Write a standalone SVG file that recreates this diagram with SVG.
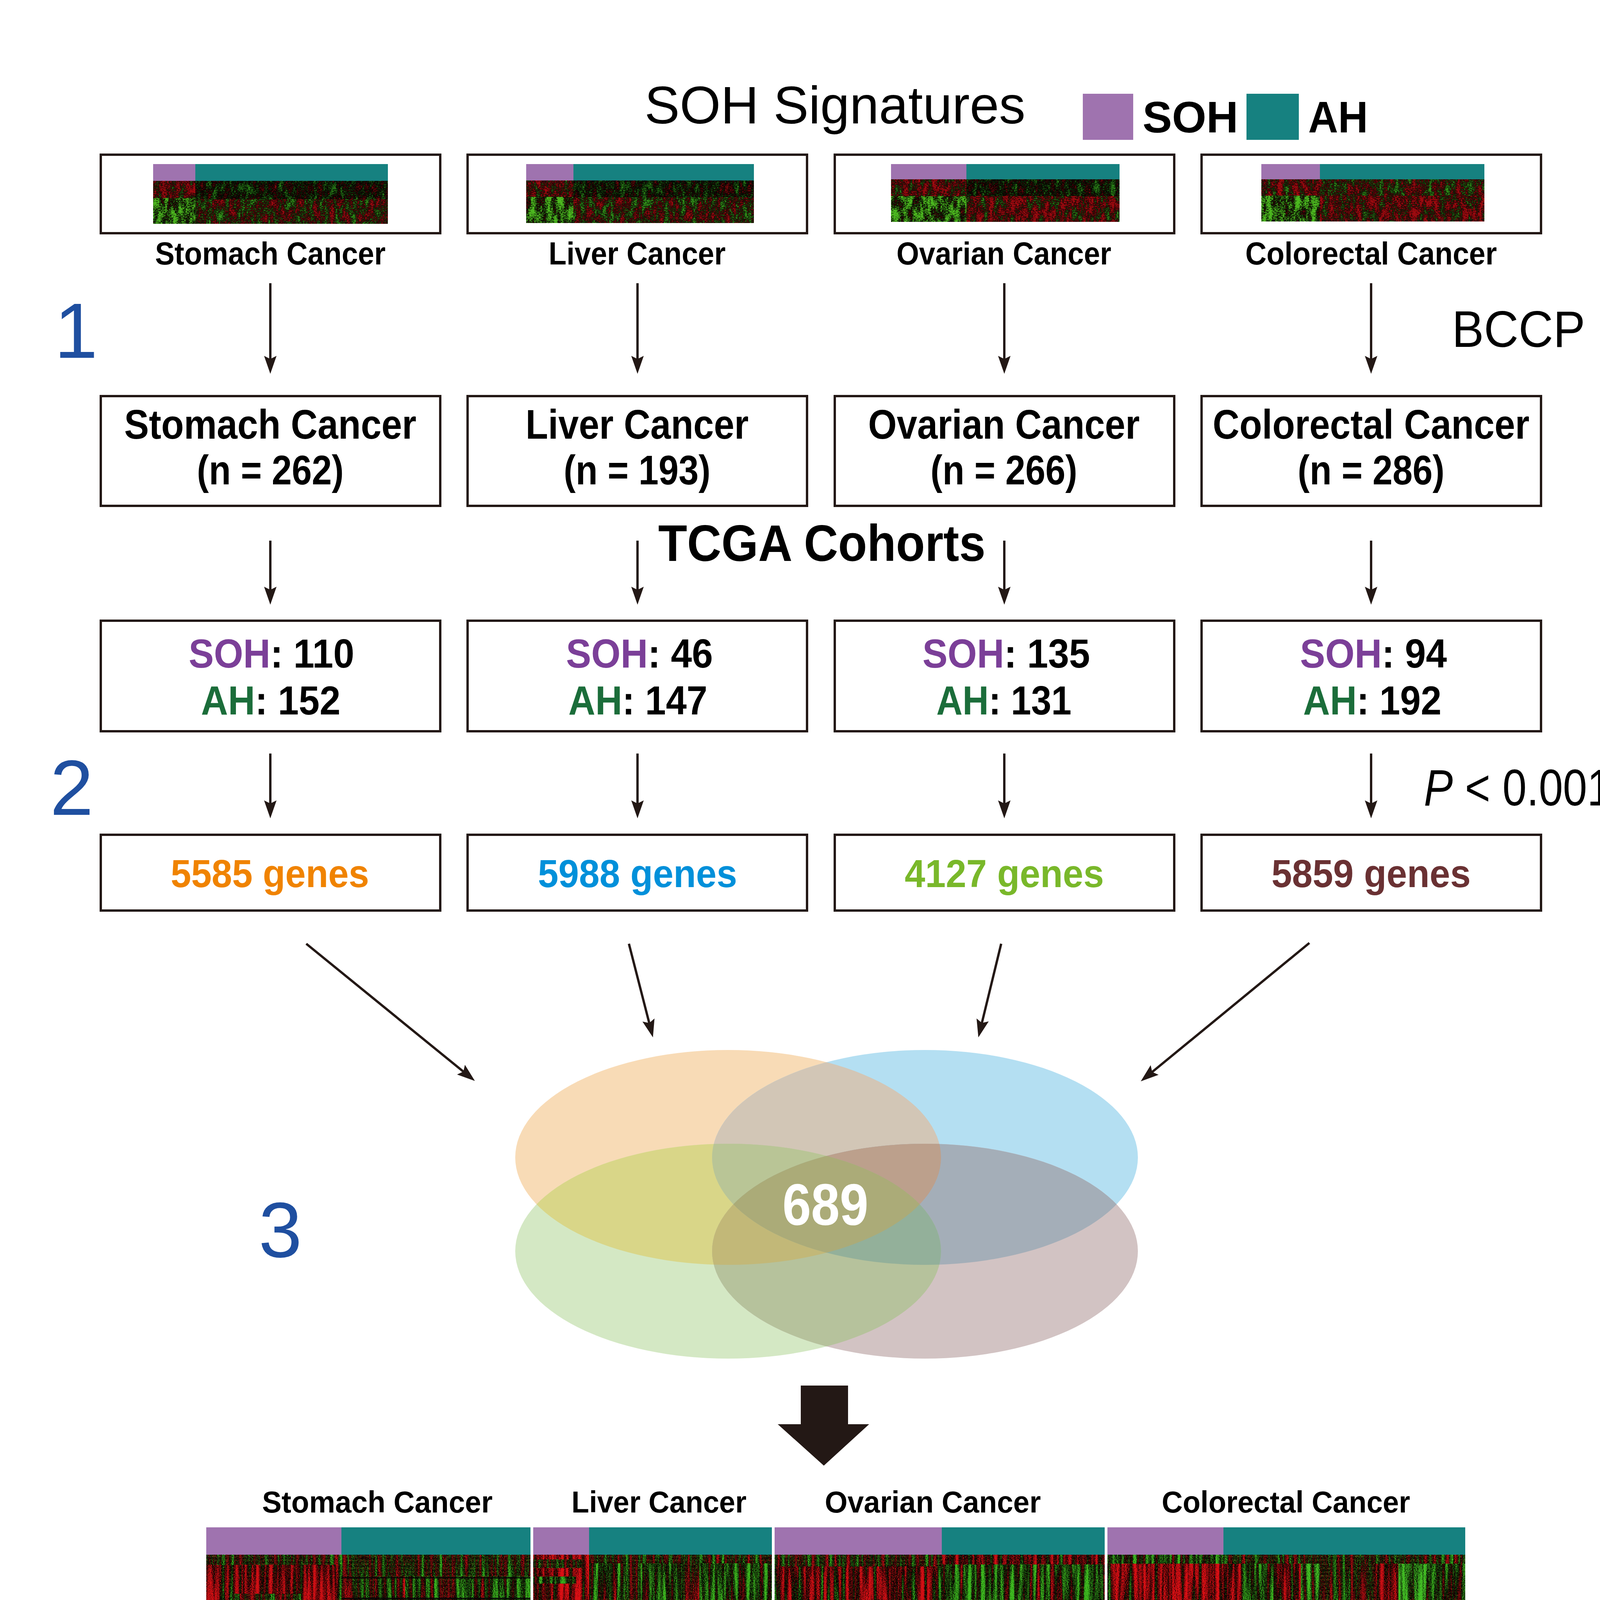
<svg xmlns="http://www.w3.org/2000/svg" width="4208" height="4801" viewBox="0 0 4208 4801">
<style>
.box{fill:#fff;stroke:#231815;stroke-width:6}
.b{font-family:"Liberation Sans",Arial,sans-serif;font-weight:bold;fill:#000}
.r{font-family:"Liberation Sans",Arial,sans-serif;font-weight:normal;fill:#000}
.num{font-family:"Liberation Sans",Arial,sans-serif;font-size:200px;fill:#1f4fa0}
.arr{stroke:#231815;stroke-width:6;fill:none;marker-end:url(#ah)}
.arr2{stroke:#231815;stroke-width:9;fill:none;marker-end:url(#ah2)}
.soh{fill:#9f73af}.ah{fill:#168180}
.ps{fill:#7b3f98}.pa{fill:#1b6d3a}
.dk{fill:#050505}
</style>
<defs>
<marker id="ah" viewBox="0 0 46 32" refX="36" refY="16" markerWidth="46" markerHeight="32" markerUnits="userSpaceOnUse" orient="auto">
<path d="M0,0 L46,16 L0,32 L8,16 z" fill="#231815"/>
</marker>
<marker id="ah2" viewBox="0 0 34 30" refX="26" refY="15" markerWidth="34" markerHeight="30" markerUnits="userSpaceOnUse" orient="auto">
<path d="M0,0 L34,15 L0,30 L6,15 z" fill="#231815"/>
</marker>
<clipPath id="cO"><ellipse cx="1864" cy="2963" rx="545" ry="275"/></clipPath>
<clipPath id="cB"><ellipse cx="2368" cy="2963" rx="545" ry="275"/></clipPath>
<clipPath id="cG"><ellipse cx="1864" cy="3203" rx="545" ry="275"/></clipPath>
<clipPath id="cR"><ellipse cx="2368" cy="3203" rx="545" ry="275"/></clipPath>
<!-- bottom heatmap filters -->
<filter id="hRR" x="0" y="0" width="1" height="1" color-interpolation-filters="sRGB">
<feTurbulence type="fractalNoise" baseFrequency="0.09 0.004" numOctaves="2" seed="2" result="a"/>
<feTurbulence type="fractalNoise" baseFrequency="0.35 0.9" numOctaves="1" seed="5" result="b"/>
<feColorMatrix in="a" type="matrix" values="1 0 0 0 0 0 1 0 0 0 0 0 1 0 0 0 0 0 0 1" result="a1"/>
<feColorMatrix in="b" type="matrix" values="1 0 0 0 0 0 1 0 0 0 0 0 1 0 0 0 0 0 0 1" result="b1"/>
<feComposite in="a1" in2="b1" operator="arithmetic" k2="0.55" k3="0.45" result="c"/>
<feColorMatrix in="c" type="matrix" values="7 0 0 0 -2.9  -7 0 0 0 2.75  0 0 0 0 0  0 0 0 0 1" result="d"/>
<feColorMatrix in="d" type="matrix" values="0.86 0.22 0 0 0  0.06 0.74 0 0 0  0.08 0.12 0 0 0  0 0 0 0 1"/>
</filter>
<filter id="hR" x="0" y="0" width="1" height="1" color-interpolation-filters="sRGB">
<feTurbulence type="fractalNoise" baseFrequency="0.09 0.004" numOctaves="2" seed="11" result="a"/>
<feTurbulence type="fractalNoise" baseFrequency="0.35 0.9" numOctaves="1" seed="13" result="b"/>
<feColorMatrix in="a" type="matrix" values="1 0 0 0 0 0 1 0 0 0 0 0 1 0 0 0 0 0 0 1" result="a1"/>
<feColorMatrix in="b" type="matrix" values="1 0 0 0 0 0 1 0 0 0 0 0 1 0 0 0 0 0 0 1" result="b1"/>
<feComposite in="a1" in2="b1" operator="arithmetic" k2="0.55" k3="0.45" result="c"/>
<feColorMatrix in="c" type="matrix" values="7 0 0 0 -3.2  -7 0 0 0 3.05  0 0 0 0 0  0 0 0 0 1" result="d"/>
<feColorMatrix in="d" type="matrix" values="0.82 0.22 0 0 0  0.06 0.74 0 0 0  0.08 0.12 0 0 0  0 0 0 0 1"/>
</filter>
<filter id="hN" x="0" y="0" width="1" height="1" color-interpolation-filters="sRGB">
<feTurbulence type="fractalNoise" baseFrequency="0.09 0.004" numOctaves="2" seed="21" result="a"/>
<feTurbulence type="fractalNoise" baseFrequency="0.35 0.9" numOctaves="1" seed="23" result="b"/>
<feColorMatrix in="a" type="matrix" values="1 0 0 0 0 0 1 0 0 0 0 0 1 0 0 0 0 0 0 1" result="a1"/>
<feColorMatrix in="b" type="matrix" values="1 0 0 0 0 0 1 0 0 0 0 0 1 0 0 0 0 0 0 1" result="b1"/>
<feComposite in="a1" in2="b1" operator="arithmetic" k2="0.5" k3="0.5" result="c"/>
<feColorMatrix in="c" type="matrix" values="7 0 0 0 -3.55  -7 0 0 0 3.45  0 0 0 0 0  0 0 0 0 1" result="d"/>
<feColorMatrix in="d" type="matrix" values="0.8 0.22 0 0 0  0.06 0.74 0 0 0  0.08 0.12 0 0 0  0 0 0 0 1"/>
</filter>
<filter id="hG" x="0" y="0" width="1" height="1" color-interpolation-filters="sRGB">
<feTurbulence type="fractalNoise" baseFrequency="0.09 0.004" numOctaves="2" seed="31" result="a"/>
<feTurbulence type="fractalNoise" baseFrequency="0.35 0.9" numOctaves="1" seed="33" result="b"/>
<feColorMatrix in="a" type="matrix" values="1 0 0 0 0 0 1 0 0 0 0 0 1 0 0 0 0 0 0 1" result="a1"/>
<feColorMatrix in="b" type="matrix" values="1 0 0 0 0 0 1 0 0 0 0 0 1 0 0 0 0 0 0 1" result="b1"/>
<feComposite in="a1" in2="b1" operator="arithmetic" k2="0.55" k3="0.45" result="c"/>
<feColorMatrix in="c" type="matrix" values="7 0 0 0 -3.9  -7 0 0 0 3.75  0 0 0 0 0  0 0 0 0 1" result="d"/>
<feColorMatrix in="d" type="matrix" values="0.8 0.24 0 0 0  0.06 0.72 0 0 0  0.08 0.12 0 0 0  0 0 0 0 1"/>
</filter>
<filter id="hGG" x="0" y="0" width="1" height="1" color-interpolation-filters="sRGB">
<feTurbulence type="fractalNoise" baseFrequency="0.09 0.004" numOctaves="2" seed="41" result="a"/>
<feTurbulence type="fractalNoise" baseFrequency="0.35 0.9" numOctaves="1" seed="43" result="b"/>
<feColorMatrix in="a" type="matrix" values="1 0 0 0 0 0 1 0 0 0 0 0 1 0 0 0 0 0 0 1" result="a1"/>
<feColorMatrix in="b" type="matrix" values="1 0 0 0 0 0 1 0 0 0 0 0 1 0 0 0 0 0 0 1" result="b1"/>
<feComposite in="a1" in2="b1" operator="arithmetic" k2="0.55" k3="0.45" result="c"/>
<feColorMatrix in="c" type="matrix" values="7 0 0 0 -4.2  -7 0 0 0 4.1  0 0 0 0 0  0 0 0 0 1" result="d"/>
<feColorMatrix in="d" type="matrix" values="0.8 0.26 0 0 0  0.06 0.74 0 0 0  0.08 0.14 0 0 0  0 0 0 0 1"/>
</filter>
<!-- thumbnail filters -->
<filter id="tR" x="0" y="0" width="1" height="1" color-interpolation-filters="sRGB">
<feTurbulence type="fractalNoise" baseFrequency="0.07 0.03" numOctaves="2" seed="51" result="a"/>
<feTurbulence type="fractalNoise" baseFrequency="0.25 0.4" numOctaves="1" seed="53" result="b"/>
<feColorMatrix in="a" type="matrix" values="1 0 0 0 0 0 1 0 0 0 0 0 1 0 0 0 0 0 0 1" result="a1"/>
<feColorMatrix in="b" type="matrix" values="1 0 0 0 0 0 1 0 0 0 0 0 1 0 0 0 0 0 0 1" result="b1"/>
<feComposite in="a1" in2="b1" operator="arithmetic" k2="0.5" k3="0.5" result="c"/>
<feColorMatrix in="c" type="matrix" values="5 0 0 0 -2.1  -5 0 0 0 2.35  0 0 0 0 0  0 0 0 0 1" result="d"/>
<feColorMatrix in="d" type="matrix" values="0.62 0.2 0 0 0  0.04 0.55 0 0 0  0.06 0.1 0 0 0  0 0 0 0 1"/>
</filter>
<filter id="tG" x="0" y="0" width="1" height="1" color-interpolation-filters="sRGB">
<feTurbulence type="fractalNoise" baseFrequency="0.07 0.03" numOctaves="2" seed="61" result="a"/>
<feTurbulence type="fractalNoise" baseFrequency="0.25 0.4" numOctaves="1" seed="63" result="b"/>
<feColorMatrix in="a" type="matrix" values="1 0 0 0 0 0 1 0 0 0 0 0 1 0 0 0 0 0 0 1" result="a1"/>
<feColorMatrix in="b" type="matrix" values="1 0 0 0 0 0 1 0 0 0 0 0 1 0 0 0 0 0 0 1" result="b1"/>
<feComposite in="a1" in2="b1" operator="arithmetic" k2="0.5" k3="0.5" result="c"/>
<feColorMatrix in="c" type="matrix" values="4 0 0 0 -2.3  -5 0 0 0 2.95  0 0 0 0 0  0 0 0 0 1" result="d"/>
<feColorMatrix in="d" type="matrix" values="0.62 0.3 0 0 0  0.04 0.72 0 0 0  0.06 0.12 0 0 0  0 0 0 0 1"/>
</filter>
<filter id="tD" x="0" y="0" width="1" height="1" color-interpolation-filters="sRGB">
<feTurbulence type="fractalNoise" baseFrequency="0.07 0.03" numOctaves="2" seed="71" result="a"/>
<feTurbulence type="fractalNoise" baseFrequency="0.25 0.4" numOctaves="1" seed="73" result="b"/>
<feColorMatrix in="a" type="matrix" values="1 0 0 0 0 0 1 0 0 0 0 0 1 0 0 0 0 0 0 1" result="a1"/>
<feColorMatrix in="b" type="matrix" values="1 0 0 0 0 0 1 0 0 0 0 0 1 0 0 0 0 0 0 1" result="b1"/>
<feComposite in="a1" in2="b1" operator="arithmetic" k2="0.5" k3="0.5" result="c"/>
<feColorMatrix in="c" type="matrix" values="4 0 0 0 -2.05  -4 0 0 0 2.08  0 0 0 0 0  0 0 0 0 1" result="d"/>
<feColorMatrix in="d" type="matrix" values="0.55 0.18 0 0 0  0.04 0.55 0 0 0  0.05 0.1 0 0 0  0 0 0 0 1"/>
</filter>
<filter id="tM" x="0" y="0" width="1" height="1" color-interpolation-filters="sRGB">
<feTurbulence type="fractalNoise" baseFrequency="0.07 0.03" numOctaves="2" seed="81" result="a"/>
<feTurbulence type="fractalNoise" baseFrequency="0.25 0.4" numOctaves="1" seed="83" result="b"/>
<feColorMatrix in="a" type="matrix" values="1 0 0 0 0 0 1 0 0 0 0 0 1 0 0 0 0 0 0 1" result="a1"/>
<feColorMatrix in="b" type="matrix" values="1 0 0 0 0 0 1 0 0 0 0 0 1 0 0 0 0 0 0 1" result="b1"/>
<feComposite in="a1" in2="b1" operator="arithmetic" k2="0.5" k3="0.5" result="c"/>
<feColorMatrix in="c" type="matrix" values="5 0 0 0 -2.35  -5 0 0 0 2.6  0 0 0 0 0  0 0 0 0 1" result="d"/>
<feColorMatrix in="d" type="matrix" values="0.6 0.2 0 0 0  0.04 0.58 0 0 0  0.06 0.1 0 0 0  0 0 0 0 1"/>
</filter>
</defs>
<rect x="0" y="0" width="4208" height="4801" fill="#fff"/>

<g id="title">
<text class="r" x="1650" y="316" font-size="135" textLength="975" lengthAdjust="spacingAndGlyphs">SOH Signatures</text>
</g>
<g id="legend">
<rect class="soh" x="2772" y="240" width="129" height="118"/>
<text class="b" x="2925" y="339" font-size="113">SOH</text>
<rect class="ah" x="3191" y="240" width="134" height="118"/>
<text class="b" x="3349" y="339" font-size="113" textLength="153" lengthAdjust="spacingAndGlyphs">AH</text>
</g>

<g id="step-numbers">
<text class="num" x="139" y="916">1</text>
<text class="num" x="128" y="2086">2</text>
<text class="num" x="662" y="3218">3</text>
</g>
<g id="step-labels">
<text class="r" x="3717" y="888" font-size="131" textLength="341" lengthAdjust="spacingAndGlyphs">BCCP</text>
<text class="r" x="3645" y="2062" font-size="132" textLength="480" lengthAdjust="spacingAndGlyphs"><tspan font-style="italic">P</tspan> &lt; 0.001</text>
<text class="b" x="2104" y="1436" font-size="131" text-anchor="middle" textLength="838" lengthAdjust="spacingAndGlyphs">TCGA Cohorts</text>
</g>

<!-- Thumbnail signature boxes -->
<g id="sig-stomach">
<rect class="box" x="258" y="396" width="869" height="201"/>
<rect class="soh" x="392" y="420" width="108" height="44"/>
<rect class="ah" x="500" y="420" width="493" height="44"/>
<rect x="392" y="463" width="108" height="45" filter="url(#tR)"/>
<rect x="392" y="507" width="108" height="66" filter="url(#tG)"/>
<rect x="500" y="463" width="493" height="48" filter="url(#tD)"/>
<rect x="500" y="510" width="493" height="63" filter="url(#tM)"/>
<text class="b" x="692" y="677" font-size="82" text-anchor="middle" textLength="590" lengthAdjust="spacingAndGlyphs">Stomach Cancer</text>
</g>
<g id="sig-liver">
<rect class="box" x="1197" y="396" width="869" height="201"/>
<rect class="soh" x="1347" y="420" width="121" height="43"/>
<rect class="ah" x="1468" y="420" width="462" height="43"/>
<rect x="1347" y="462" width="121" height="43" filter="url(#tR)"/>
<rect x="1347" y="504" width="121" height="67" filter="url(#tG)"/>
<rect x="1468" y="462" width="462" height="44" filter="url(#tD)"/>
<rect x="1468" y="505" width="462" height="66" filter="url(#tM)"/>
<text class="b" x="1631" y="677" font-size="82" text-anchor="middle" textLength="453" lengthAdjust="spacingAndGlyphs">Liver Cancer</text>
</g>
<g id="sig-ovarian">
<rect class="box" x="2137" y="396" width="869" height="201"/>
<rect class="soh" x="2281" y="420" width="193" height="40"/>
<rect class="ah" x="2474" y="420" width="392" height="40"/>
<rect x="2281" y="459" width="193" height="44" filter="url(#tR)"/>
<rect x="2281" y="502" width="193" height="66" filter="url(#tG)"/>
<rect x="2474" y="459" width="392" height="44" filter="url(#tD)"/>
<rect x="2474" y="502" width="392" height="66" filter="url(#tR)"/>
<text class="b" x="2570" y="677" font-size="82" text-anchor="middle" textLength="550" lengthAdjust="spacingAndGlyphs">Ovarian Cancer</text>
</g>
<g id="sig-colorectal">
<rect class="box" x="3076" y="396" width="869" height="201"/>
<rect class="soh" x="3229" y="420" width="150" height="40"/>
<rect class="ah" x="3379" y="420" width="421" height="40"/>
<rect x="3229" y="459" width="150" height="43" filter="url(#tR)"/>
<rect x="3229" y="501" width="150" height="66" filter="url(#tG)"/>
<rect x="3379" y="459" width="421" height="43" filter="url(#tM)"/>
<rect x="3379" y="501" width="421" height="66" filter="url(#tR)"/>
<text class="b" x="3510" y="677" font-size="82" text-anchor="middle" textLength="644" lengthAdjust="spacingAndGlyphs">Colorectal Cancer</text>
</g>

<!-- TCGA cohort boxes -->
<g id="cohort-stomach">
<rect class="box" x="258" y="1014" width="869" height="281"/>
<text class="b" x="692" y="1123" font-size="106" text-anchor="middle" textLength="748" lengthAdjust="spacingAndGlyphs">Stomach Cancer</text>
<text class="b" x="692" y="1240" font-size="106" text-anchor="middle" textLength="376" lengthAdjust="spacingAndGlyphs">(n = 262)</text>
</g>
<g id="cohort-liver">
<rect class="box" x="1197" y="1014" width="869" height="281"/>
<text class="b" x="1631" y="1123" font-size="106" text-anchor="middle" textLength="571" lengthAdjust="spacingAndGlyphs">Liver Cancer</text>
<text class="b" x="1631" y="1240" font-size="106" text-anchor="middle" textLength="376" lengthAdjust="spacingAndGlyphs">(n = 193)</text>
</g>
<g id="cohort-ovarian">
<rect class="box" x="2137" y="1014" width="869" height="281"/>
<text class="b" x="2570" y="1123" font-size="106" text-anchor="middle" textLength="695" lengthAdjust="spacingAndGlyphs">Ovarian Cancer</text>
<text class="b" x="2570" y="1240" font-size="106" text-anchor="middle" textLength="376" lengthAdjust="spacingAndGlyphs">(n = 266)</text>
</g>
<g id="cohort-colorectal">
<rect class="box" x="3076" y="1014" width="869" height="281"/>
<text class="b" x="3510" y="1123" font-size="106" text-anchor="middle" textLength="811" lengthAdjust="spacingAndGlyphs">Colorectal Cancer</text>
<text class="b" x="3510" y="1240" font-size="106" text-anchor="middle" textLength="376" lengthAdjust="spacingAndGlyphs">(n = 286)</text>
</g>

<!-- SOH / AH split boxes -->
<g id="split-stomach">
<rect class="box" x="258" y="1589" width="869" height="283"/>
<text class="b" x="695" y="1709" font-size="104" text-anchor="middle" textLength="424" lengthAdjust="spacingAndGlyphs"><tspan class="ps">SOH</tspan>: 110</text>
<text class="b" x="693" y="1829" font-size="104" text-anchor="middle" textLength="357" lengthAdjust="spacingAndGlyphs"><tspan class="pa">AH</tspan>: 152</text>
</g>
<g id="split-liver">
<rect class="box" x="1197" y="1589" width="869" height="283"/>
<text class="b" x="1637" y="1709" font-size="104" text-anchor="middle" textLength="376" lengthAdjust="spacingAndGlyphs"><tspan class="ps">SOH</tspan>: 46</text>
<text class="b" x="1633" y="1829" font-size="104" text-anchor="middle" textLength="356" lengthAdjust="spacingAndGlyphs"><tspan class="pa">AH</tspan>: 147</text>
</g>
<g id="split-ovarian">
<rect class="box" x="2137" y="1589" width="869" height="283"/>
<text class="b" x="2576" y="1709" font-size="104" text-anchor="middle" textLength="429" lengthAdjust="spacingAndGlyphs"><tspan class="ps">SOH</tspan>: 135</text>
<text class="b" x="2570" y="1829" font-size="104" text-anchor="middle" textLength="346" lengthAdjust="spacingAndGlyphs"><tspan class="pa">AH</tspan>: 131</text>
</g>
<g id="split-colorectal">
<rect class="box" x="3076" y="1589" width="869" height="283"/>
<text class="b" x="3516" y="1709" font-size="104" text-anchor="middle" textLength="376" lengthAdjust="spacingAndGlyphs"><tspan class="ps">SOH</tspan>: 94</text>
<text class="b" x="3513" y="1829" font-size="104" text-anchor="middle" textLength="354" lengthAdjust="spacingAndGlyphs"><tspan class="pa">AH</tspan>: 192</text>
</g>

<!-- gene count boxes -->
<g id="genes-stomach">
<rect class="box" x="258" y="2137" width="869" height="194"/>
<text class="b" x="691" y="2271" font-size="100" text-anchor="middle" textLength="508" lengthAdjust="spacingAndGlyphs" style="fill:#f08300">5585 genes</text>
</g>
<g id="genes-liver">
<rect class="box" x="1197" y="2137" width="869" height="194"/>
<text class="b" x="1632" y="2271" font-size="100" text-anchor="middle" textLength="510" lengthAdjust="spacingAndGlyphs" style="fill:#0090da">5988 genes</text>
</g>
<g id="genes-ovarian">
<rect class="box" x="2137" y="2137" width="869" height="194"/>
<text class="b" x="2571" y="2271" font-size="100" text-anchor="middle" textLength="510" lengthAdjust="spacingAndGlyphs" style="fill:#79b82a">4127 genes</text>
</g>
<g id="genes-colorectal">
<rect class="box" x="3076" y="2137" width="869" height="194"/>
<text class="b" x="3510" y="2271" font-size="100" text-anchor="middle" textLength="510" lengthAdjust="spacingAndGlyphs" style="fill:#6a3133">5859 genes</text>
</g>

<!-- Venn diagram -->
<g id="venn">
<ellipse cx="1864" cy="2963" rx="545" ry="275" fill="#f8dbb6"/>
<ellipse cx="2368" cy="2963" rx="545" ry="275" fill="#b4dff2"/>
<ellipse cx="1864" cy="3203" rx="545" ry="275" fill="#d4e8c4"/>
<ellipse cx="2368" cy="3203" rx="545" ry="275" fill="#d2c3c3"/>
<g clip-path="url(#cB)"><ellipse cx="1864" cy="2963" rx="545" ry="275" fill="#d2c6b6"/></g>
<g clip-path="url(#cG)"><ellipse cx="1864" cy="2963" rx="545" ry="275" fill="#d9d688"/></g>
<g clip-path="url(#cR)"><ellipse cx="1864" cy="2963" rx="545" ry="275" fill="#c0ab9a"/></g>
<g clip-path="url(#cG)"><ellipse cx="2368" cy="2963" rx="545" ry="275" fill="#b2c6b2"/></g>
<g clip-path="url(#cR)"><ellipse cx="2368" cy="2963" rx="545" ry="275" fill="#a4aeb8"/></g>
<g clip-path="url(#cR)"><ellipse cx="1864" cy="3203" rx="545" ry="275" fill="#b6c29c"/></g>
<g clip-path="url(#cB)"><g clip-path="url(#cG)"><ellipse cx="1864" cy="2963" rx="545" ry="275" fill="#b9c596"/></g></g>
<g clip-path="url(#cB)"><g clip-path="url(#cR)"><ellipse cx="1864" cy="2963" rx="545" ry="275" fill="#bca08c"/></g></g>
<g clip-path="url(#cG)"><g clip-path="url(#cR)"><ellipse cx="1864" cy="2963" rx="545" ry="275" fill="#c2b878"/></g></g>
<g clip-path="url(#cG)"><g clip-path="url(#cR)"><ellipse cx="2368" cy="2963" rx="545" ry="275" fill="#93b09a"/></g></g>
<g clip-path="url(#cB)"><g clip-path="url(#cG)"><g clip-path="url(#cR)"><ellipse cx="1864" cy="2963" rx="545" ry="275" fill="#abab78"/></g></g></g>
<text class="b" x="2113" y="3136" font-size="150" text-anchor="middle" textLength="220" lengthAdjust="spacingAndGlyphs" style="fill:#fff">689</text>
</g>

<!-- big down arrow -->
<g id="big-arrow">
<path d="M2050,3547 H2171 V3646 H2225 L2109,3752 L1991,3646 H2050 Z" fill="#231815"/>
</g>

<!-- Core heatmap -->
<g id="core-heatmap">
<text class="b" x="966" y="3872" font-size="78" text-anchor="middle" textLength="590" lengthAdjust="spacingAndGlyphs">Stomach Cancer</text>
<text class="b" x="1687" y="3872" font-size="78" text-anchor="middle" textLength="448" lengthAdjust="spacingAndGlyphs">Liver Cancer</text>
<text class="b" x="2388" y="3872" font-size="78" text-anchor="middle" textLength="553" lengthAdjust="spacingAndGlyphs">Ovarian Cancer</text>
<text class="b" x="3292" y="3872" font-size="78" text-anchor="middle" textLength="636" lengthAdjust="spacingAndGlyphs">Colorectal Cancer</text>
<!-- color bars -->
<rect class="soh" x="528" y="3910" width="346" height="71"/>
<rect class="ah" x="874" y="3910" width="484" height="71"/>
<rect class="soh" x="1365" y="3910" width="143" height="71"/>
<rect class="ah" x="1508" y="3910" width="468" height="71"/>
<rect class="soh" x="1983" y="3910" width="428" height="71"/>
<rect class="ah" x="2411" y="3910" width="417" height="71"/>
<rect class="soh" x="2835" y="3910" width="297" height="71"/>
<rect class="ah" x="3132" y="3910" width="619" height="71"/>
<!-- stomach -->
<rect x="528" y="3980" width="346" height="533" filter="url(#hR)"/>
<rect x="528" y="3980" width="346" height="26" filter="url(#hN)"/>
<rect x="600" y="4080" width="170" height="120" filter="url(#hN)"/>
<rect x="620" y="4240" width="150" height="120" filter="url(#hRR)"/>
<rect x="874" y="3980" width="484" height="533" filter="url(#hG)"/>
<rect x="874" y="3980" width="484" height="56" filter="url(#hN)"/>
<rect x="874" y="4036" width="86" height="477" filter="url(#hN)"/>
<rect x="1015" y="4036" width="22" height="477" filter="url(#hR)"/>
<rect x="1130" y="4036" width="30" height="400" filter="url(#hN)"/>
<rect x="1245" y="4100" width="60" height="200" filter="url(#hGG)"/>
<rect x="874" y="4460" width="484" height="53" filter="url(#hN)"/>
<g opacity="0.8">
<rect class="dk" x="874" y="4037" width="484" height="4"/>
<rect class="dk" x="874" y="4090" width="484" height="5"/>
<rect class="dk" x="874" y="4205" width="484" height="4"/>
<rect class="dk" x="874" y="4327" width="484" height="6"/>
<rect class="dk" x="874" y="4355" width="484" height="5"/>
<rect class="dk" x="874" y="4372" width="484" height="8"/>
<rect class="dk" x="726" y="4436" width="632" height="18"/>
<rect class="dk" x="528" y="4487" width="830" height="4"/>
<rect class="dk" x="874" y="4500" width="484" height="4"/>
</g>
<!-- liver -->
<rect x="1365" y="3980" width="143" height="533" filter="url(#hRR)"/>
<rect x="1365" y="3992" width="125" height="22" filter="url(#hN)"/>
<rect x="1365" y="4036" width="110" height="18" filter="url(#hG)"/>
<rect x="1508" y="3980" width="468" height="533" filter="url(#hG)"/>
<rect x="1508" y="3980" width="468" height="22" filter="url(#hN)"/>
<rect x="1600" y="4002" width="40" height="511" filter="url(#hN)"/>
<rect x="1750" y="4002" width="40" height="511" filter="url(#hN)"/>
<rect class="dk" x="1508" y="4447" width="468" height="5" opacity="0.7"/>
<!-- ovarian -->
<rect x="1983" y="3980" width="428" height="533" filter="url(#hR)"/>
<rect x="1983" y="3980" width="428" height="30" filter="url(#hN)"/>
<rect x="2411" y="3980" width="417" height="533" filter="url(#hG)"/>
<rect x="2411" y="3980" width="417" height="25" filter="url(#hR)"/>
<!-- colorectal -->
<rect x="2835" y="3980" width="297" height="533" filter="url(#hRR)"/>
<rect x="2835" y="3980" width="297" height="23" filter="url(#hG)"/>
<rect x="3132" y="3980" width="48" height="533" filter="url(#hR)"/>
<rect x="3180" y="3980" width="80" height="533" filter="url(#hG)"/>
<rect x="3260" y="3980" width="70" height="533" filter="url(#hR)"/>
<rect x="3330" y="3980" width="50" height="533" filter="url(#hGG)"/>
<rect x="3380" y="3980" width="140" height="533" filter="url(#hN)"/>
<rect x="3520" y="3980" width="60" height="533" filter="url(#hR)"/>
<rect x="3580" y="3980" width="80" height="533" filter="url(#hGG)"/>
<rect x="3660" y="3980" width="91" height="533" filter="url(#hG)"/>
<rect x="3132" y="3980" width="619" height="23" filter="url(#hN)"/>
<text class="b" x="2147" y="4660" font-size="131" text-anchor="middle" textLength="1154" lengthAdjust="spacingAndGlyphs">Core SOH Signature</text>
</g>

<g id="gene-labels">
<text class="r" x="80" y="4406" font-size="102" textLength="274" lengthAdjust="spacingAndGlyphs" style="fill:#e8141e">CTGF</text>
<text class="r" x="49" y="4516" font-size="102" textLength="309" lengthAdjust="spacingAndGlyphs" style="fill:#e8141e">CYR61</text>
</g>

<g id="connectors">
<line class="arr" x1="692" y1="725" x2="692" y2="947"/>
<line class="arr" x1="1632" y1="725" x2="1632" y2="947"/>
<line class="arr" x1="2571" y1="725" x2="2571" y2="947"/>
<line class="arr" x1="3510" y1="725" x2="3510" y2="947"/>
<line class="arr" x1="692" y1="1384" x2="692" y2="1538"/>
<line class="arr" x1="1632" y1="1384" x2="1632" y2="1538"/>
<line class="arr" x1="2571" y1="1384" x2="2571" y2="1538"/>
<line class="arr" x1="3510" y1="1384" x2="3510" y2="1538"/>
<line class="arr" x1="692" y1="1929" x2="692" y2="2085"/>
<line class="arr" x1="1632" y1="1929" x2="1632" y2="2085"/>
<line class="arr" x1="2571" y1="1929" x2="2571" y2="2085"/>
<line class="arr" x1="3510" y1="1929" x2="3510" y2="2085"/>
<line class="arr" x1="784" y1="2416" x2="1208" y2="2761"/>
<line class="arr" x1="1610" y1="2416" x2="1669" y2="2646"/>
<line class="arr" x1="2563" y1="2416" x2="2507" y2="2646"/>
<line class="arr" x1="3352" y1="2414" x2="2928" y2="2762"/>
<line class="arr2" x1="369" y1="4375" x2="514" y2="4456"/>
<line class="arr2" x1="370" y1="4493" x2="513" y2="4465"/>
</g>
</svg>
